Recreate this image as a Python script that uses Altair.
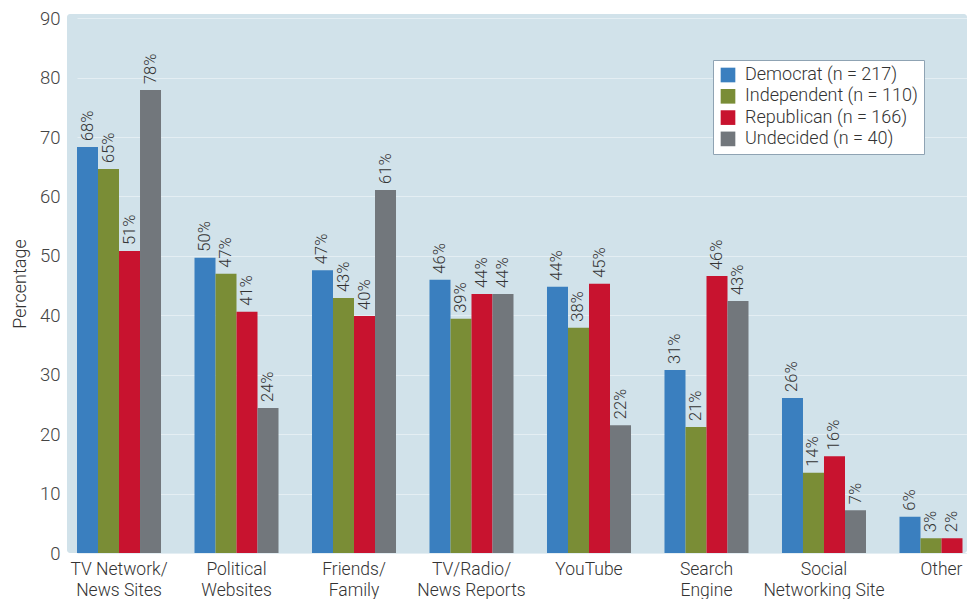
import altair as alt
import pandas as pd

categories = ["TV Network/\nNews Sites", "Political\nWebsites", "Friends/\nFamily",
              "TV/Radio/\nNews Reports", "YouTube", "Search\nEngine",
              "Social\nNetworking Site", "Other"]
parties = ["Democrat (n = 217)", "Independent (n = 110)",
           "Republican (n = 166)", "Undecided (n = 40)"]
colors = ["#3a7fbf", "#7a8d36", "#c8132f", "#72777c"]

democrat = [68.3, 49.7, 47.6, 46.0, 44.8, 30.8, 26.1, 6.1]
independent = [64.6, 47.0, 42.9, 39.4, 37.9, 21.2, 13.5, 2.5]
republican = [50.8, 40.6, 39.9, 43.6, 45.3, 46.6, 16.3, 2.5]
undecided = [77.9, 24.4, 61.1, 43.6, 21.5, 42.4, 7.2, None]

dem_labels = ["68%", "50%", "47%", "46%", "44%", "31%", "26%", "6%"]
ind_labels = ["65%", "47%", "43%", "39%", "38%", "21%", "14%", "3%"]
rep_labels = ["51%", "41%", "40%", "44%", "45%", "46%", "16%", "2%"]
und_labels = ["78%", "24%", "61%", "44%", "22%", "43%", "7%", ""]

rows = []
for p, vals, labs in zip(parties, [democrat, independent, republican, undecided],
                         [dem_labels, ind_labels, rep_labels, und_labels]):
    for c, v, l in zip(categories, vals, labs):
        if v is None:
            continue
        rows.append({"category": c, "party": p, "value": v, "label": l})
df = pd.DataFrame(rows)

FONT = "Roboto"

x = alt.X("category:N", sort=categories,
          scale=alt.Scale(range=[10, 916.5], paddingInner=0.285, paddingOuter=0),
          axis=alt.Axis(title=None, labelAngle=0, labelExpr="split(datum.label, '\\n')",
                        labelFontSize=17.5, labelColor="#333333", labelFont=FONT,
                        labelFontWeight=300, labelLineHeight=21, labelPadding=7,
                        ticks=False, domain=False, grid=False, labelLimit=200))
xo = alt.XOffset("party:N", sort=parties, scale=alt.Scale(paddingInner=0, paddingOuter=0))
y = alt.Y("value:Q", scale=alt.Scale(domain=[0, 90.7], nice=False),
          axis=alt.Axis(title="Percentage", values=list(range(0, 100, 10)),
                        titleFontSize=18, titleFontWeight=300, titleFont=FONT,
                        titleColor="#333333", titlePadding=10,
                        labelFontSize=18.5, labelFont=FONT, labelFontWeight=300,
                        labelColor="#444444", labelPadding=7,
                        ticks=False, domain=False, gridColor="#e4eef3", gridWidth=1))

color = alt.Color("party:N", sort=parties,
                  scale=alt.Scale(domain=parties, range=colors),
                  legend=alt.Legend(title=None, orient="none", legendX=646, legendY=46,
                                    fillColor="white", strokeColor="#8fa3b3",
                                    padding=6, symbolType="square", symbolSize=215,
                                    symbolStrokeWidth=0, labelFontSize=18,
                                    labelFont=FONT, labelFontWeight=300,
                                    labelColor="#333333", rowPadding=3.3,
                                    symbolOpacity=1, labelOffset=8, labelLimit=400))

bars = alt.Chart(df).mark_bar(clip=True).encode(x=x, xOffset=xo, y=y, color=color)
text = alt.Chart(df).mark_text(angle=270, align="left", baseline="middle", dx=6,
                               fontSize=16.5, font=FONT, fontWeight=300,
                               color="#333333", clip=True).encode(
    x=x, xOffset=xo, y="value:Q", text="label:N")

chart = (bars + text).properties(
    width=900, height=539,
    autosize=alt.AutoSizeParams(type="none"),
    padding={"left": 67, "top": 14, "right": 0, "bottom": 46},
    background="white",
).configure_view(fill="#d1e2ea", stroke=None, cornerRadius=3)

chart.save("out.html", embed_options={"renderer": "svg", "actions": False})
